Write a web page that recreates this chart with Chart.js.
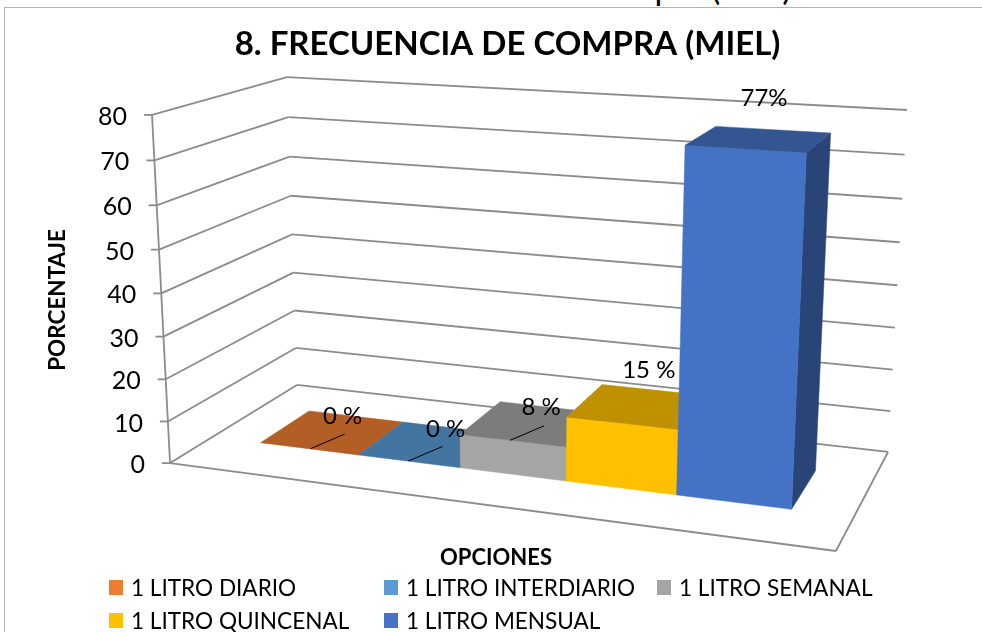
<!DOCTYPE html>
<html>
<head>
<meta charset="utf-8">
<script src="https://cdn.jsdelivr.net/npm/chart.js@4"></script>
<style>
html, body { margin: 0; padding: 0; background: #fff; overflow: hidden; }
#wrap { position: relative; width: 982px; height: 632px; overflow: hidden; font-family: Lato, sans-serif; color: #000; }
#caption { position: absolute; left: 0; top: 0; width: 1014px; height: 7px; overflow: hidden; }
#caption span { position: absolute; left: 0; width: 100%; top: -31px; text-align: center; font-size: 34px; line-height: 36px; white-space: nowrap; }
#frame { position: absolute; left: 4px; top: 7px; width: 1000px; height: 640px; border-left: 1.5px solid #b4b4b4; border-top: 1.5px solid #b4b4b4; }
canvas { position: absolute; left: 0; top: 0; }
.item { position: absolute; font-size: 24px; line-height: 30px; white-space: nowrap; transform: scaleX(0.94); transform-origin: left center; }
.swatch { position: absolute; width: 14px; height: 15px; }
</style>
</head>
<body>
<div id="wrap">
  <div id="caption"><span>Gráfico 8: Frecuencia de compra (miel)</span></div>
  <div id="frame"></div>
  <canvas id="chart" width="982" height="632"></canvas>
  <div id="legend"></div>
</div>
<script>
var titleText = '8. FRECUENCIA DE COMPRA (MIEL)';
var yAxisTitle = 'PORCENTAJE';
var xAxisTitle = 'OPCIONES';
var seriesNames = ['1 LITRO DIARIO', '1 LITRO INTERDIARIO', '1 LITRO SEMANAL', '1 LITRO QUINCENAL', '1 LITRO MENSUAL'];
var seriesValues = [0, 0, 8, 15, 77];
var valueLabels = ['0 %', '0 %', '8 %', '15 %', '77%'];
var seriesColors = ['#ED7D31', '#5B9BD5', '#A5A5A5', '#FFC000', '#4472C4'];

// where the corners of the 3d box land on the page: [across, up, deep, pageX, pageY]
var boxCorners = [
    [0, 0, 0, 170, 463], [1, 0, 0, 836, 551], [0, 1, 0, 152, 115],
    [0, 0, 1, 297, 385], [1, 0, 1, 888, 452], [0, 1, 1, 287, 77], [1, 1, 1, 907, 110]
];
var barDepth = [0.31, 0.71];
var barShift = -0.002;
var labelOffsets = [[82, -26], [87, -26], [81, -27], [82, -47], [79, -47]];
var leaderFrom = [50, 6];
var leaderTo = [84, -8.5];
var legendSpots = [[131, 572], [406, 572], [679, 572], [131, 605], [406, 605]];

// solve the 3x4 camera matrix from the corners (least squares)
var camera = (function() {
    var rows = [], rhs = [];
    boxCorners.forEach(function(c) {
        var u = c[3] / 1000, v = c[4] / 1000;
        rows.push([c[0], c[1], c[2], 1, 0, 0, 0, 0, -u * c[0], -u * c[1], -u * c[2]]); rhs.push(u);
        rows.push([0, 0, 0, 0, c[0], c[1], c[2], 1, -v * c[0], -v * c[1], -v * c[2]]); rhs.push(v);
    });
    var n = 11, m = [];
    for (var i = 0; i < n; i++) {
        m.push([]);
        for (var j = 0; j <= n; j++) {
            var s = 0;
            rows.forEach(function(r, k) { s += r[i] * (j == n ? rhs[k] : r[j]); });
            m[i].push(s);
        }
    }
    for (var p = 0; p < n; p++) {
        var best = p;
        for (var q = p + 1; q < n; q++) if (Math.abs(m[q][p]) > Math.abs(m[best][p])) best = q;
        var tmp = m[p]; m[p] = m[best]; m[best] = tmp;
        for (var q2 = 0; q2 < n; q2++) {
            if (q2 == p) continue;
            var f = m[q2][p] / m[p][p];
            for (var j2 = p; j2 <= n; j2++) m[q2][j2] -= f * m[p][j2];
        }
    }
    return m.map(function(r, i) { return r[n] / r[i]; });
})();

var project = function(a, h, z) {
    var c = camera;
    var w = c[8] * a + c[9] * h + c[10] * z + 1;
    return {
        x: 1000 * (c[0] * a + c[1] * h + c[2] * z + c[3]) / w,
        y: 1000 * (c[4] * a + c[5] * h + c[6] * z + c[7]) / w
    };
};

var shade = function(hex, k) {
    var n = parseInt(hex.slice(1), 16);
    return 'rgb(' + Math.round((n >> 16) * k) + ',' + Math.round(((n >> 8) & 255) * k) + ',' + Math.round((n & 255) * k) + ')';
};

var poly = function(ctx, pts, fill) {
    ctx.beginPath();
    pts.forEach(function(p, i) { if (i) ctx.lineTo(p.x, p.y); else ctx.moveTo(p.x, p.y); });
    ctx.closePath();
    ctx.fillStyle = fill;
    ctx.strokeStyle = fill;
    ctx.lineWidth = 0.5;
    ctx.fill();
    ctx.stroke();
};

var line = function(ctx, p, q) {
    ctx.beginPath();
    ctx.moveTo(p.x, p.y);
    ctx.lineTo(q.x, q.y);
    ctx.stroke();
};

var box3d = {
    id: 'box3d',
    beforeDatasetsDraw: function(chart) {
        var ctx = chart.ctx, area = chart.chartArea, yScale = chart.scales.y;
        var toH = function(px) { return (area.bottom - px) / (area.bottom - area.top); };
        var toA = function(px) { return (px - area.left) / (area.right - area.left) + barShift; };

        ctx.save();
        // walls and floor
        ctx.strokeStyle = '#8c8c8c';
        ctx.lineWidth = 1.8;
        ctx.font = '25px Lato';
        ctx.textAlign = 'right';
        ctx.textBaseline = 'middle';
        yScale.ticks.forEach(function(t) {
            var h = toH(yScale.getPixelForValue(t.value));
            var front = project(0, h, 0), back = project(0, h, 1), right = project(1, h, 1);
            line(ctx, { x: front.x - 8, y: front.y }, front);
            line(ctx, front, back);
            line(ctx, back, right);
            ctx.fillStyle = '#000';
            ctx.fillText(t.label, front.x - 25, front.y + 2);
        });
        line(ctx, project(0, 0, 0), project(0, 1, 0));
        line(ctx, project(0, 0, 0), project(1, 0, 0));
        line(ctx, project(1, 0, 0), project(1, 0, 1));

        // bars, left to right so each one covers the side of the one before
        var tops = [];
        chart.data.datasets.forEach(function(ds, i) {
            var el = chart.getDatasetMeta(i).data[0];
            var a0 = toA(el.x - el.width / 2), a1 = toA(el.x + el.width / 2);
            var h = toH(el.y), z0 = barDepth[0], z1 = barDepth[1];
            var col = ds.backgroundColor;
            var fb0 = project(a0, 0, z0), fb1 = project(a1, 0, z0), bb1 = project(a1, 0, z1);
            var ft0 = project(a0, h, z0), ft1 = project(a1, h, z0), bt0 = project(a0, h, z1), bt1 = project(a1, h, z1);
            if (h > 0) {
                poly(ctx, [fb1, bb1, bt1, ft1], shade(col, 0.6));
                poly(ctx, [fb0, fb1, ft1, ft0], col);
            }
            poly(ctx, [ft0, ft1, bt1, bt0], shade(col, 0.75));
            tops.push(ft0);
        });

        // value labels and their leader lines
        ctx.font = '24px Lato';
        ctx.textAlign = 'center';
        ctx.fillStyle = '#000';
        ctx.strokeStyle = '#000';
        ctx.lineWidth = 1;
        tops.forEach(function(p, i) {
            ctx.fillText(valueLabels[i], p.x + labelOffsets[i][0], p.y + labelOffsets[i][1]);
            if (i < 3) {
                line(ctx, { x: p.x + leaderFrom[0], y: p.y + leaderFrom[1] }, { x: p.x + leaderTo[0], y: p.y + leaderTo[1] });
            }
        });

        // axis titles
        ctx.font = 'bold 22px Lato';
        ctx.fillText(xAxisTitle, 496, 558);
        ctx.translate(58, 300);
        ctx.rotate(-Math.PI / 2);
        ctx.font = 'bold 22.5px Lato';
        ctx.fillText(yAxisTitle, 0, 0);
        ctx.restore();
        return false;
    }
};

var chart = new Chart(document.getElementById('chart'), {
    type: 'bar',
    data: {
        labels: [''],
        datasets: seriesNames.map(function(name, i) {
            return { label: name, data: [seriesValues[i]], backgroundColor: seriesColors[i], categoryPercentage: 0.83, barPercentage: 1 };
        })
    },
    plugins: [box3d],
    options: {
        responsive: false,
        animation: false,
        layout: { padding: { left: 33, top: 25 } },
        scales: {
            x: { display: false },
            y: { display: false, min: 0, max: 80, ticks: { stepSize: 10 } }
        },
        plugins: {
            legend: { display: false },
            tooltip: { enabled: false },
            title: {
                display: true,
                text: titleText,
                color: '#000',
                padding: 0,
                font: { family: 'Lato', size: 33, weight: 'bold' }
            }
        }
    }
});

var legendBox = document.getElementById('legend');
seriesNames.forEach(function(name, i) {
    var d = document.createElement('div');
    d.className = 'item';
    d.style.left = legendSpots[i][0] + 'px';
    d.style.top = legendSpots[i][1] + 'px';
    d.textContent = name;
    legendBox.appendChild(d);
    var sw = document.createElement('div');
    sw.className = 'swatch';
    sw.style.left = (legendSpots[i][0] - 22) + 'px';
    sw.style.top = (legendSpots[i][1] + 8) + 'px';
    sw.style.background = seriesColors[i];
    legendBox.appendChild(sw);
});
</script>
</body>
</html>
